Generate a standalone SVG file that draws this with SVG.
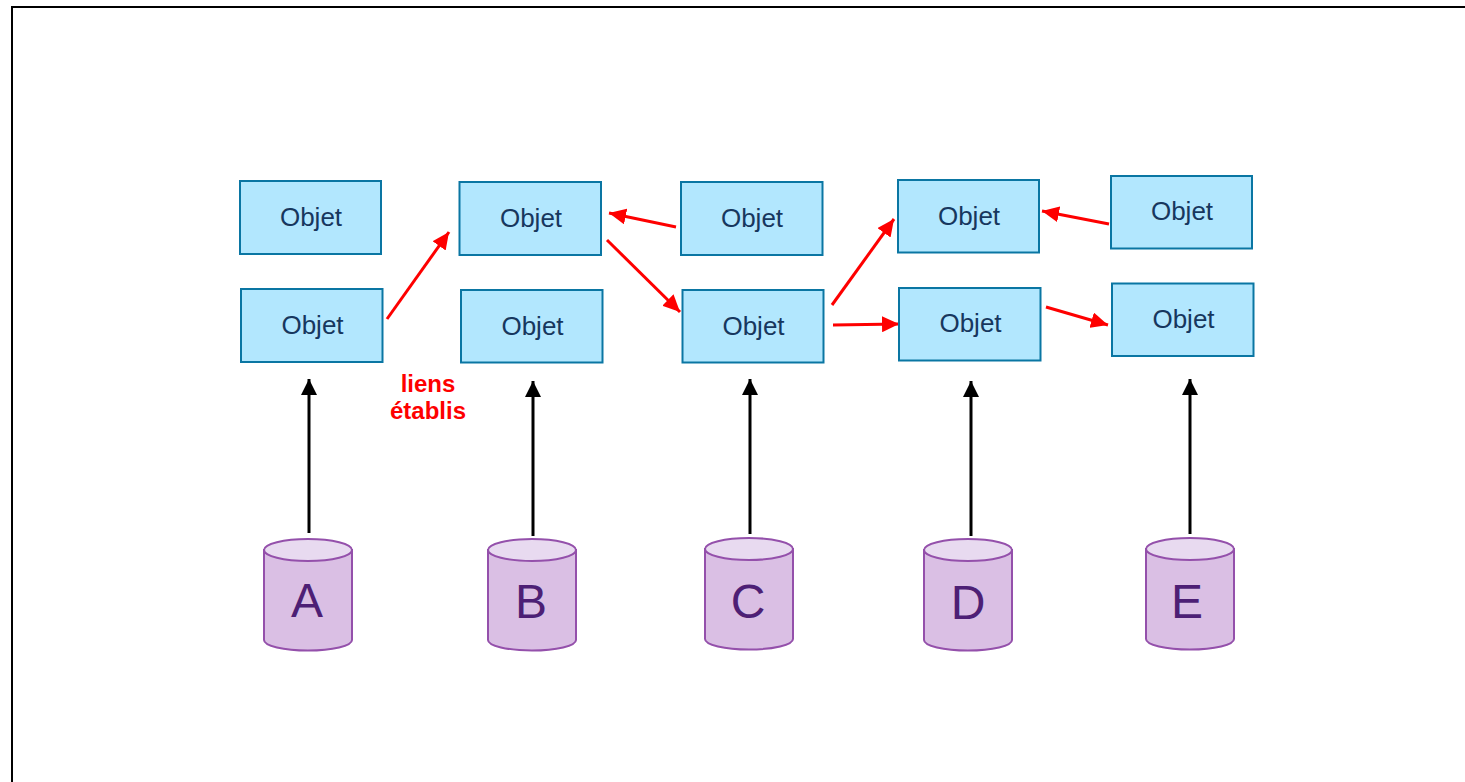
<svg xmlns="http://www.w3.org/2000/svg" width="1465" height="782" viewBox="0 0 1465 782">
<style>
.box{fill:#b2e7fe;stroke:#0a76a3;stroke-width:2}
.ot{font-family:"Liberation Sans",Arial,sans-serif;font-size:26px;fill:#17375e;text-anchor:middle}
.cb{fill:#dabfe4;stroke:#9450ab;stroke-width:2}
.ct{fill:#e8daf0;stroke:#9450ab;stroke-width:2}
.cl{font-family:"Liberation Sans",Arial,sans-serif;font-size:48px;fill:#4d1f75;text-anchor:middle}
.r{stroke:#fe0000;stroke-width:3;fill:none;marker-end:url(#ar)}
.k{stroke:#000;stroke-width:3;fill:none;marker-end:url(#ak)}
.lb{font-family:"Liberation Sans",Arial,sans-serif;font-size:24px;font-weight:bold;fill:#fe0000;text-anchor:middle}
</style>
<defs>
<marker id="ar" markerUnits="userSpaceOnUse" markerWidth="18" markerHeight="16" refX="17" refY="8" orient="auto"><path d="M0 0L17 8L0 16Z" fill="#fe0000"/></marker>
<marker id="ak" markerUnits="userSpaceOnUse" markerWidth="18" markerHeight="16" refX="16" refY="8" orient="auto"><path d="M0 0L16 8L0 16Z" fill="#000"/></marker>
</defs>
<rect width="1465" height="782" fill="#fff"/>
<path id="frame" d="M12 782V7H1465" fill="none" stroke="#000" stroke-width="2"/>
<g id="connectors">
<path class="r" d="M387 319L449 232"/>
<path class="r" d="M676 227L609 213"/>
<path class="r" d="M607 240L680 312"/>
<path class="r" d="M832 305L894 219"/>
<path class="r" d="M833 325L899 324"/>
<path class="r" d="M1109 224L1042 211"/>
<path class="r" d="M1046 307L1108 325"/>
<path class="k" d="M309 533V379"/>
<path class="k" d="M533 536V381"/>
<path class="k" d="M750 534V379"/>
<path class="k" d="M971 536V381"/>
<path class="k" d="M1190 534V379"/>
</g>
<g id="obj1"><rect class="box" x="240" y="181" width="141" height="73"/><text class="ot" x="311" y="226">Objet</text></g>
<g id="obj2"><rect class="box" x="241" y="289" width="141.500" height="73"/><text class="ot" x="312.500" y="334">Objet</text></g>
<g id="obj3"><rect class="box" x="459.500" y="182" width="141.500" height="73"/><text class="ot" x="531" y="227">Objet</text></g>
<g id="obj4"><rect class="box" x="461" y="290" width="141.500" height="72.500"/><text class="ot" x="532.500" y="335">Objet</text></g>
<g id="obj5"><rect class="box" x="681" y="182" width="141.500" height="73"/><text class="ot" x="752" y="227">Objet</text></g>
<g id="obj6"><rect class="box" x="682.500" y="290" width="141" height="72.500"/><text class="ot" x="753.500" y="335">Objet</text></g>
<g id="obj7"><rect class="box" x="898" y="180" width="141" height="72.500"/><text class="ot" x="969" y="225">Objet</text></g>
<g id="obj8"><rect class="box" x="899" y="288" width="141.500" height="72.500"/><text class="ot" x="970.500" y="332">Objet</text></g>
<g id="obj9"><rect class="box" x="1111" y="176" width="141" height="72.500"/><text class="ot" x="1182" y="220">Objet</text></g>
<g id="obj10"><rect class="box" x="1112" y="283.500" width="141.500" height="72.500"/><text class="ot" x="1183.500" y="328">Objet</text></g>
<g id="label"><text class="lb" x="428" y="392">liens</text><text class="lb" x="428" y="419">établis</text></g>
<g id="dbA"><path class="cb" d="M264 550V640A44 10.500 0 0 0 352 640V550Z"/><ellipse class="ct" cx="308" cy="550" rx="44" ry="11"/><text class="cl" x="307" y="617">A</text></g>
<g id="dbB"><path class="cb" d="M488 550V640A44 10.500 0 0 0 576 640V550Z"/><ellipse class="ct" cx="532" cy="550" rx="44" ry="11"/><text class="cl" x="531" y="618">B</text></g>
<g id="dbC"><path class="cb" d="M705 549V639A44 10.500 0 0 0 793 639V549Z"/><ellipse class="ct" cx="749" cy="549" rx="44" ry="11"/><text class="cl" x="748" y="618">C</text></g>
<g id="dbD"><path class="cb" d="M924 550V640A44 10.500 0 0 0 1012 640V550Z"/><ellipse class="ct" cx="968" cy="550" rx="44" ry="11"/><text class="cl" x="968" y="619">D</text></g>
<g id="dbE"><path class="cb" d="M1146 549V639A44 10.500 0 0 0 1234 639V549Z"/><ellipse class="ct" cx="1190" cy="549" rx="44" ry="11"/><text class="cl" x="1187" y="618">E</text></g>
</svg>
